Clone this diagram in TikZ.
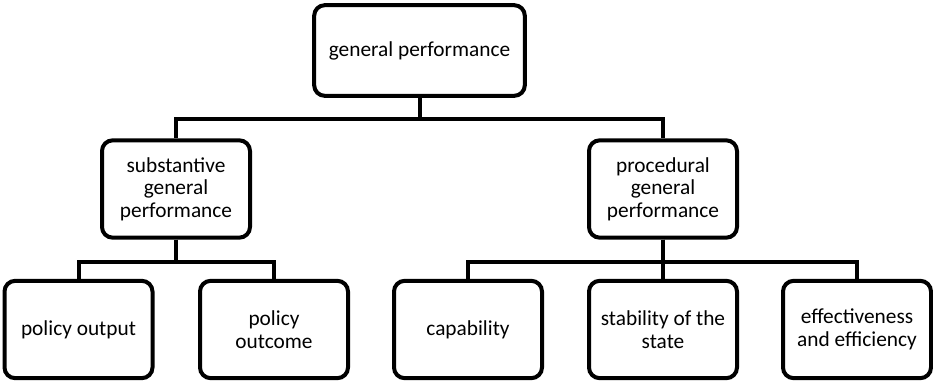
\documentclass[tikz,border=0pt]{standalone}
\usepackage{fontspec}
\setmainfont{Carlito}

\begin{document}
\begin{tikzpicture}[x=0.75pt, y=-0.75pt, line width=3pt,
    box/.style={draw, rounded corners=8pt, align=center, inner sep=2pt,
        font=\fontsize{16}{17}\selectfont, minimum width=111pt, minimum height=73pt},
    topbox/.style={box, minimum width=158pt, minimum height=68pt}]
\useasboundingbox (0, 0) rectangle (933, 383);
% levels
\node[topbox] (gp) at (419.5, 50.5) {general performance};
\node[box] (sgp) at (176, 189) {substantive\\general\\performance};
\node[box] (pgp) at (663, 189) {procedural\\general\\performance};
\node[box] (out) at (78.5, 329.5) {policy output};
\node[box] (outc) at (274, 329.5) {policy\\outcome};
\node[box] (cap) at (468, 329.5) {capability};
\node[box] (stab) at (663, 329.5) {stability of the\\state};
\node[box] (eff) at (857, 329.5) {effectiveness\\and efficiency};
% connectors
\draw (gp.south) -- ++(0, 21) -| (sgp.north);
\draw (gp.south) -- ++(0, 21) -| (pgp.north);
\draw (sgp.south) -- ++(0, 22) -| (out.north);
\draw (sgp.south) -- ++(0, 22) -| (outc.north);
\draw (pgp.south) -- ++(0, 22) -| (cap.north);
\draw (pgp.south) -- (stab.north);
\draw (pgp.south) -- ++(0, 22) -| (eff.north);
\end{tikzpicture}
\end{document}
